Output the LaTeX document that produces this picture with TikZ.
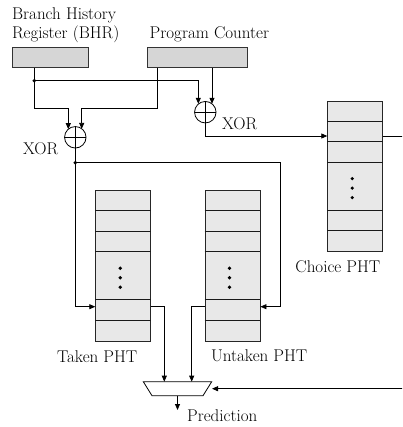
\documentclass[tikz,border=0pt]{standalone}
\usetikzlibrary{arrows.meta,calc}
\newcommand\PhtRows[1]{%
  \foreach \yy in {20.5,41,61.5,109.5,130}
    {\draw[rowline] ([yshift=-\yy pt]#1.north west) -- ([yshift=-\yy pt]#1.north east);}
  \foreach \yy in {78,87.5,97}
    {\fill ([xshift=-3pt,yshift=-\yy pt]#1.north) circle (1.8pt);}
}
\begin{document}
\begin{tikzpicture}[x=1pt,y=-1pt,
  line width=0.8pt,
  font=\fontsize{17}{19}\selectfont,
  reg/.style={draw=black!80, fill=black!16, inner sep=0pt},
  pht/.style={draw=black!85, fill=black!9, inner sep=0pt, minimum width=55pt, minimum height=150.5pt},
  rowline/.style={draw=black!90, line width=0.8pt},
  xorgate/.style={draw, circle, inner sep=0pt, minimum size=21.5pt,
    path picture={\draw[line width=0.8pt] (path picture bounding box.north) -- (path picture bounding box.south)
      (path picture bounding box.west) -- (path picture bounding box.east);}},
  arr/.style={-{Triangle[length=6pt,width=5pt]}},
  lbl/.style={inner sep=0pt, anchor=base west},
  muxshape/.style={draw, fill=white},
  junction/.style={circle, fill, inner sep=0pt, minimum size=3.8pt}]
\useasboundingbox (0,0) rectangle (402,427);
\clip (0,0) rectangle (402,427);

% registers
\node[reg, minimum width=75.6pt, minimum height=20.3pt] (bhr) at (50.5,57.4) {};
\node[reg, minimum width=100pt, minimum height=20pt] (pc) at (197.3,57.2) {};
\node[lbl, anchor=north west, align=left] (bhrlbl) at (11.7,7.2) {Branch History\\Register (BHR)};
\node[lbl] (pclbl) at (149.3,39) {Program Counter};

% xor gates
\node[xorgate] (xorL) at (75.3,137.3) {};
\node[xorgate] (xorU) at (205.3,112.2) {};
\node[lbl] (xorLlbl) at (22.7,154.5) {XOR};
\node[lbl] (xorUlbl) at (221.7,130) {XOR};

% pattern history tables
\node[pht] (choice) at (355.2,176.3) {};
\node[pht] (taken) at (123.2,265.9) {};
\node[pht] (untaken) at (232.5,265.9) {};
\PhtRows{choice}
\PhtRows{taken}
\PhtRows{untaken}
\node[lbl] (choicelbl) at (295,272) {Choice PHT};
\node[lbl] (takenlbl) at (56.7,362) {Taken PHT};
\node[lbl] (untakenlbl) at (210.7,361) {Untaken PHT};

% mux
\coordinate (mux) at (177.5,388.7);
\draw[muxshape] ($(mux)+(-34.2,-7)$) -- ($(mux)+(34.2,-7)$) -- ($(mux)+(25.5,7)$) -- ($(mux)+(-25.5,7)$) -- cycle;
\coordinate (out) at (177.5,410);
\node[lbl] (predlbl) at (186.7,421) {Prediction};

% junctions
\coordinate (d1) at (34.3,80.7);
\coordinate (d2) at (75.3,162.7);

% connectors
\draw (bhr.south -| d1) -- (d1);
\draw[arr] (d1) -| ($(xorU.center)+(-7,-8.4)$);
\draw[arr] (d1) |- ($(xorL.center)+(-7,-29)$) -- ($(xorL.center)+(-7,-8.1)$);
\draw[arr] ([xshift=-40pt]pc.south) |- ($(xorL.center)+(6.4,-29)$) -- ($(xorL.center)+(6.4,-8.4)$);
\draw[arr] ([xshift=14.7pt]pc.south) -- ($(xorU.center)+(6.7,-8.4)$);
\draw[arr] (xorU.south) |- ([yshift=40.3pt]choice.west);
\draw[arr] ([yshift=40.3pt]choice.east) -- ++(40,0) |- ($(mux)+(34.5,0)$);
\draw (xorL.south) -- (d2);
\draw[arr] (d2) |- ([yshift=-40.8pt]taken.west);
\draw[arr] (d2) -- ++(204.7,0) |- ([yshift=-40.8pt]untaken.east);
\draw[arr] ([yshift=-40.8pt]taken.east) -| ($(mux)+(-13.2,-7)$);
\draw[arr] ([yshift=-40.8pt]untaken.west) -| ($(mux)+(14.2,-7)$);
\draw[arr] ($(mux)+(0,7)$) -- (out);
\node[junction] at (d1) {};
\node[junction] at (d2) {};
\end{tikzpicture}
\end{document}
